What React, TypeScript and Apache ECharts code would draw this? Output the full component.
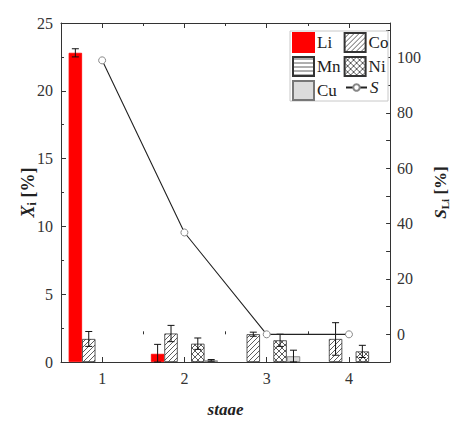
import React, { useEffect, useRef } from "react";
import * as echarts from "echarts";

const stages = ["1", "2", "3", "4"];
const li = [22.8, 0.6, 0, 0];
const liErr = [0.3, 0.7, 0, 0];
const co = [1.7, 2.1, 2.05, 1.7];
const coErr = [0.55, 0.6, 0.15, 1.2];
const mn = [0, 0, 0, 0];
const mnErr = [0, 0, 0, 0];
const ni = [0, 1.35, 1.6, 0.78];
const niErr = [0, 0.42, 0.45, 0.45];
const cu = [0, 0.12, 0.42, 0];
const cuErr = [0, 0.06, 0.45, 0];
const sLi = [99, 36.8, 0, 0];

const FONT = "'Liberation Serif', 'DejaVu Serif', serif";

function svgUrl(w: number, h: number, body: string) {
  const s = `<svg xmlns="http://www.w3.org/2000/svg" width="${w}" height="${h}">${body}</svg>`;
  return "data:image/svg+xml;charset=utf-8," + encodeURIComponent(s);
}

const patCo = {
  image: svgUrl(
    5,
    5,
    `<rect width="5" height="5" fill="#fff"/><path d="M-1,6 L6,-1 M-1,1 L1,-1 M4,6 L6,4" stroke="#333" stroke-width="0.8"/>`
  ),
  imageWidth: 5,
  imageHeight: 5,
  repeat: "repeat",
};
const patMn = {
  image: svgUrl(
    5,
    4,
    `<rect width="5" height="4" fill="#fff"/><path d="M0,2 L5,2" stroke="#333" stroke-width="0.8"/>`
  ),
  imageWidth: 5,
  imageHeight: 4,
  repeat: "repeat",
};
const patNi = {
  image: svgUrl(
    6,
    6,
    `<rect width="6" height="6" fill="#fff"/><path d="M-1,7 L7,-1 M-1,-1 L7,7" stroke="#333" stroke-width="0.8"/>`
  ),
  imageWidth: 6,
  imageHeight: 6,
  repeat: "repeat",
};

const BAR_GAP_CAT = 0.186;

export default function App() {
  const ref = useRef<HTMLDivElement>(null);
  useEffect(() => {
    if (!ref.current) return;
    const chart = echarts.init(ref.current, undefined, { renderer: "svg" });

    const barSeries = [
      { name: "Li", data: li, err: liErr, color: "#ff0000", border: "#ff0000" },
      { name: "Co", data: co, err: coErr, color: patCo, border: "#333" },
      { name: "Mn", data: mn, err: mnErr, color: patMn, border: "#333" },
      { name: "Ni", data: ni, err: niErr, color: patNi, border: "#333" },
      { name: "Cu", data: cu, err: cuErr, color: "#dcdcdc", border: "#777" },
    ];

    const errData: number[][] = [];
    barSeries.forEach((b, k) => {
      b.data.forEach((v, i) => {
        if (b.err[i] > 0) errData.push([i, v, b.err[i], k]);
      });
    });

    const axisLine = { show: true, lineStyle: { color: "#333", width: 1 } };
    const labelStyle = { fontFamily: FONT, fontSize: 16, color: "#333" };
    const legendText = {
      fontFamily: FONT,
      fontSize: 17,
      color: "#222",
      padding: [0, 0, 0, -2],
      rich: { i: { fontFamily: FONT, fontSize: 17, fontStyle: "italic", color: "#222" } },
    };
    const mkTitle = (fs: number, ss: number, pad: number) => ({
      fontFamily: FONT,
      fontSize: fs,
      fontWeight: "bold",
      color: "#222",
      rich: {
        x: { fontFamily: FONT, fontSize: fs, fontWeight: "bold", fontStyle: "italic", color: "#222" },
        s: { fontFamily: FONT, fontSize: ss, fontWeight: "bold", color: "#222", verticalAlign: "bottom", padding: [pad, 0, 0, 0] },
      },
    });

    chart.setOption({
      animation: false,
      grid: { left: 61, right: 57, top: 23, bottom: 61 },
      graphic: [
        {
          type: "rect",
          shape: { x: 290, y: 31, width: 98, height: 70 },
          style: { fill: "#fff", stroke: "#c8c8c8", lineWidth: 1 },
          z: 3,
        },
      ],
      legend: [
        {
          orient: "vertical",
          left: 292,
          top: 32,
          height: 80,
          itemWidth: 21,
          itemHeight: 19,
          itemGap: 3,
          padding: 0,
          data: [
            { name: "Li", icon: "rect" },
            { name: "Mn", icon: "rect" },
            { name: "Cu", icon: "rect" },
            { name: "Co", icon: "rect" },
            { name: "Ni", icon: "rect" },
          ],
          textStyle: legendText,
        },
        {
          orient: "vertical",
          left: 345,
          top: 79,
          itemWidth: 21,
          itemHeight: 8,
          padding: 0,
          data: [{ name: "S" }],
          formatter: () => "{i|S}",
          textStyle: legendText,
        },
      ],
      xAxis: [
        {
          type: "category",
          data: stages,
          position: "bottom",
          axisLine,
          axisTick: { show: true, alignWithLabel: true, inside: true, length: 5, lineStyle: { color: "#333" } },
          axisLabel: { ...labelStyle, margin: 8 },
          name: "stage",
          nameLocation: "middle",
          nameGap: 39,
          nameTextStyle: { fontFamily: FONT, fontSize: 17, fontStyle: "italic", fontWeight: "bold", color: "#222" },
        },
        {
          type: "category",
          data: stages,
          position: "bottom",
          axisLine: { show: false },
          axisTick: { show: true, inside: true, length: 3, lineStyle: { color: "#333" } },
          axisLabel: { show: false },
        },
        {
          type: "category",
          data: stages,
          position: "top",
          axisLine,
          axisTick: { show: true, alignWithLabel: true, inside: true, length: 5, lineStyle: { color: "#333" } },
          axisLabel: { show: false },
        },
        {
          type: "category",
          data: stages,
          position: "top",
          axisLine: { show: false },
          axisTick: { show: true, inside: true, length: 3, lineStyle: { color: "#333" } },
          axisLabel: { show: false },
        },
      ],
      yAxis: [
        {
          type: "value",
          min: 0,
          max: 25,
          interval: 5,
          position: "left",
          axisLine,
          splitLine: { show: false },
          axisTick: { show: true, inside: true, length: 5, lineStyle: { color: "#333" } },
          minorTick: { show: true, splitNumber: 2, length: 3, lineStyle: { color: "#333" } },
          axisLabel: { ...labelStyle, margin: 8 },
          name: "{x|X}{s|i} [%]",
          nameLocation: "middle",
          nameGap: 23,
          nameMoveOverlap: false,
          nameRotate: 90,
          nameTextStyle: mkTitle(18, 12, 9),
        },
        {
          type: "value",
          min: -10,
          max: 112.5,
          interval: 10,
          position: "right",
          axisLine,
          splitLine: { show: false },
          axisTick: { show: true, inside: true, length: 4, lineStyle: { color: "#333" } },
          axisLabel: {
            ...labelStyle,
            margin: 7,
            formatter: (v: number) => (v >= 0 && v % 20 === 0 ? String(v) : ""),
          },
          name: "{x|S}{s|Li} [%]",
          nameLocation: "middle",
          nameGap: 38,
          nameRotate: 90,
          nameTextStyle: mkTitle(17, 11, 8),
        },
      ],
      series: [
        ...barSeries.map((b) => ({
          type: "bar",
          name: b.name,
          xAxisIndex: 0,
          yAxisIndex: 0,
          data: b.data.map((v) => (v === 0 ? "-" : v)),
          barGap: "0%",
          barCategoryGap: BAR_GAP_CAT * 100 + "%",
          itemStyle: { color: b.color, borderColor: b.border, borderWidth: 0.8 },
        })),
        {
          type: "custom",
          name: "err",
          xAxisIndex: 0,
          yAxisIndex: 0,
          data: errData,
          z: 5,
          renderItem: (params: any, api: any) => {
            const cat = api.value(0);
            const v = api.value(1);
            const e = api.value(2);
            const k = api.value(3);
            const band = api.size([1, 0])[0];
            const bw = (band * (1 - BAR_GAP_CAT)) / 5;
            const c = api.coord([cat, v]);
            const x = c[0] + (k - 2) * bw;
            const top = api.coord([cat, v + e])[1];
            const bot = api.coord([cat, Math.max(v - e, 0)])[1];
            const cap = 3.5;
            const st = { stroke: "#111", lineWidth: 1 };
            return {
              type: "group",
              children: [
                { type: "line", shape: { x1: x, y1: top, x2: x, y2: bot }, style: st },
                { type: "line", shape: { x1: x - cap, y1: top, x2: x + cap, y2: top }, style: st },
                { type: "line", shape: { x1: x - cap, y1: bot, x2: x + cap, y2: bot }, style: st },
              ],
            };
          },
        },
        {
          type: "line",
          name: "S",
          xAxisIndex: 0,
          yAxisIndex: 1,
          data: sLi,
          symbol: "circle",
          symbolSize: 7,
          showSymbol: true,
          z: 6,
          lineStyle: { color: "#222", width: 1.1 },
          itemStyle: { color: "#fff", borderColor: "#888", borderWidth: 1 },
        },
      ],
    });
    return () => chart.dispose();
  }, []);
  return <div ref={ref} style={{ width: 458, height: 423, margin: -8 }} />;
}
